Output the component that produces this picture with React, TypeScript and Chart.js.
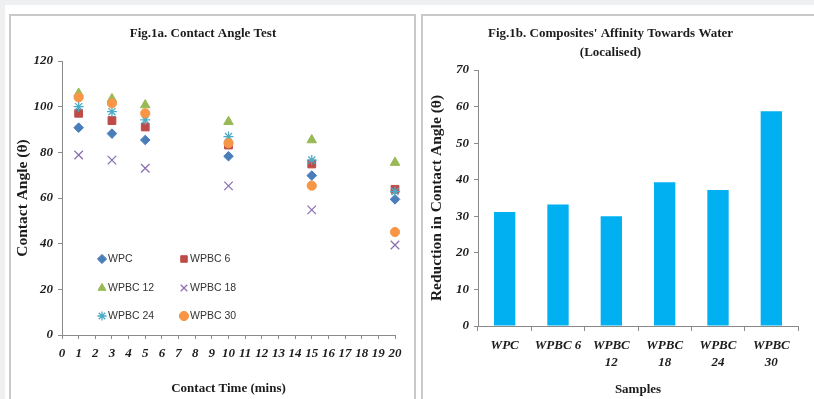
import React, { useEffect, useRef } from 'react';
import { Chart, registerables } from 'chart.js';
import { drawPoint } from 'chart.js/helpers';

Chart.register(...registerables);

// ---------- data ----------
const contactTimes = [1, 3, 5, 10, 15, 20];
const seriesNames = ['WPC', 'WPBC 6', 'WPBC 12', 'WPBC 18', 'WPBC 24', 'WPBC 30'];
const wpc = [90.8, 88.2, 85.4, 78.3, 69.8, 59.4];
const wpbc6 = [97.1, 93.9, 91.1, 83.2, 74.9, 63.8];
const wpbc12 = [105.8, 103.4, 100.7, 93.4, 85.4, 75.5];
const wpbc18 = [78.8, 76.6, 73.0, 65.3, 54.8, 39.4];
const wpbc24 = [100.0, 97.8, 94.2, 86.9, 76.6, 62.8];
const wpbc30 = [104.1, 101.5, 97.1, 84.0, 65.4, 45.1];

const sampleLabels: (string | string[])[] = ['WPC', 'WPBC 6', ['WPBC', '12'], ['WPBC', '18'], ['WPBC', '24'], ['WPBC', '30']];
const reductionValues = [31.2, 33.2, 30.0, 39.3, 37.2, 58.7];

// ---------- styles ----------
const SERIF = '"Liberation Serif", "Times New Roman", serif';
const AXIS_COLOR = '#8a8a8a';
const TEXT_COLOR = '#1c1c1c';

const seriesStyles = [
  { pointStyle: 'rectRot', color: '#4a7ebb', radius: 4.8, borderWidth: 1 },
  { pointStyle: 'rect', color: '#be4b48', radius: 5.5, borderWidth: 1 },
  { pointStyle: 'triangle', color: '#98b954', radius: 5.5, borderWidth: 1 },
  { pointStyle: 'crossRot', color: '#8a70b0', radius: 6, borderWidth: 1.3 },
  { pointStyle: 'star', color: '#4bacc6', radius: 5, borderWidth: 1.3 },
  { pointStyle: 'circle', color: '#f79646', radius: 4.6, borderWidth: 1 },
];
const seriesValues = [wpc, wpbc6, wpbc12, wpbc18, wpbc24, wpbc30];

const gridLegend = {
  id: 'gridLegend',
  afterDraw(chart: any) {
    const o = chart.options.plugins.gridLegend;
    if (!o) return;
    const { ctx, chartArea } = chart;
    chart.data.datasets.forEach((ds: any, i: number) => {
      const col = i % o.cols.length;
      const row = Math.floor(i / o.cols.length);
      const x = chartArea.left + o.cols[col];
      const y = chartArea.top + o.rows[row];
      ctx.save();
      ctx.fillStyle = ds.backgroundColor;
      ctx.strokeStyle = ds.borderColor;
      ctx.lineWidth = ds.borderWidth;
      drawPoint(ctx, { pointStyle: ds.pointStyle, radius: o.markerRadius, rotation: 0, borderWidth: ds.borderWidth }, x, y);
      ctx.fillStyle = '#333333';
      ctx.font = o.font;
      ctx.textBaseline = 'middle';
      ctx.textAlign = 'left';
      ctx.fillText(ds.label, x + o.textGap, y + 0.5);
      ctx.restore();
    });
  },
};

const tickFont = { family: SERIF, size: 13, weight: 'bold' as const, style: 'italic' as const };

function ScatterPanel() {
  const ref = useRef<HTMLCanvasElement>(null);
  useEffect(() => {
    const datasets = seriesNames.map((name, i) => ({
      label: name,
      data: contactTimes.map((t, j) => ({ x: t, y: seriesValues[i][j] })),
      pointStyle: seriesStyles[i].pointStyle,
      backgroundColor: seriesStyles[i].color,
      borderColor: seriesStyles[i].color,
      borderWidth: seriesStyles[i].borderWidth,
      pointRadius: seriesStyles[i].radius,
      pointHoverRadius: seriesStyles[i].radius,
      showLine: false,
      clip: false,
      order: seriesNames.length - i,
    }));
    const chart = new Chart(ref.current as HTMLCanvasElement, {
      type: 'scatter',
      data: { datasets },
      plugins: [gridLegend],
      options: {
        animation: false,
        responsive: false,
        devicePixelRatio: 1,
        layout: { padding: { left: 0, right: 19, top: 0, bottom: 0 } },
        plugins: {
          legend: { display: false },
          tooltip: { enabled: false },
          title: {
            display: true,
            text: 'Fig.1a. Contact Angle Test',
            color: TEXT_COLOR,
            font: { family: SERIF, size: 13, weight: 'bold', lineHeight: 1.2 },
            padding: { top: 10.2, bottom: 19.2 },
          },
          gridLegend: {
            cols: [40, 122],
            rows: [198, 227, 255],
            markerRadius: 4.6,
            textGap: 6,
            font: '10.5px "Liberation Sans", Arial, sans-serif',
          },
        } as any,
        scales: {
          x: {
            type: 'linear',
            min: 0,
            max: 20,
            afterFit: (s: any) => { s.height = 64; },
            border: { display: true, color: AXIS_COLOR, width: 1 },
            grid: { drawOnChartArea: false, color: AXIS_COLOR, tickLength: 4 },
            ticks: { stepSize: 1, autoSkip: false, maxRotation: 0, minRotation: 0, color: TEXT_COLOR, font: tickFont, padding: 7 },
            title: {
              display: true,
              text: 'Contact Time (mins)',
              color: TEXT_COLOR,
              font: { family: SERIF, size: 13, weight: 'bold', lineHeight: 1.2 },
              padding: { top: 0, bottom: 3 },
            },
          },
          y: {
            type: 'linear',
            min: 0,
            max: 120,
            afterFit: (s: any) => { s.width = 51; },
            border: { display: true, color: AXIS_COLOR, width: 1 },
            grid: { drawOnChartArea: false, color: AXIS_COLOR, tickLength: 4 },
            ticks: { stepSize: 20, color: TEXT_COLOR, font: tickFont, padding: 5 },
            title: {
              display: true,
              text: 'Contact Angle (θ)',
              color: TEXT_COLOR,
              font: { family: SERIF, size: 15.5, weight: 'bold', lineHeight: 1.2 },
              padding: { top: 2.5, bottom: 0 },
            },
          },
        },
      } as any,
    });
    return () => chart.destroy();
  }, []);
  return <canvas ref={ref} width={403} height={383} style={{ position: 'absolute', left: 0, top: 0, width: 403, height: 383 }} />;
}

function BarPanel() {
  const ref = useRef<HTMLCanvasElement>(null);
  useEffect(() => {
    const chart = new Chart(ref.current as HTMLCanvasElement, {
      type: 'bar',
      data: {
        labels: sampleLabels,
        datasets: [
          {
            label: 'Reduction in Contact Angle',
            data: reductionValues,
            backgroundColor: '#00b0f0',
            borderWidth: 0,
            categoryPercentage: 0.8,
            barPercentage: 0.5,
          },
        ],
      },
      options: {
        animation: false,
        responsive: false,
        devicePixelRatio: 1,
        layout: { padding: { left: 0, right: 71, top: 0, bottom: 0 } },
        plugins: {
          legend: { display: false },
          tooltip: { enabled: false },
          title: {
            display: true,
            text: ["Fig.1b. Composites' Affinity Towards Water", '(Localised)'],
            color: TEXT_COLOR,
            font: { family: SERIF, size: 13, weight: 'bold', lineHeight: 1.4 },
            padding: { top: 8.9, bottom: 8.7 },
          },
        },
        scales: {
          x: {
            afterFit: (s: any) => { s.height = 73; },
            border: { display: true, color: AXIS_COLOR, width: 1 },
            grid: { drawOnChartArea: false, color: AXIS_COLOR, tickLength: 5, offset: true },
            ticks: { autoSkip: false, maxRotation: 0, minRotation: 0, color: TEXT_COLOR, font: { ...tickFont, lineHeight: 1.3 }, padding: 6.5 },
            title: {
              display: true,
              text: 'Samples',
              color: TEXT_COLOR,
              font: { family: SERIF, size: 13, weight: 'bold', lineHeight: 1.2 },
              padding: { top: 0, bottom: 1.2 },
            },
          },
          y: {
            min: 0,
            max: 70,
            afterFit: (s: any) => { s.width = 55; },
            border: { display: true, color: AXIS_COLOR, width: 1 },
            grid: { drawOnChartArea: false, color: AXIS_COLOR, tickLength: 4 },
            ticks: { stepSize: 10, color: TEXT_COLOR, font: tickFont, padding: 5 },
            title: {
              display: true,
              text: 'Reduction in Contact Angle (θ)',
              color: TEXT_COLOR,
              font: { family: SERIF, size: 15.5, weight: 'bold', lineHeight: 1.2 },
              padding: { top: 4.7, bottom: 0 },
            },
          },
        },
      } as any,
    });
    return () => chart.destroy();
  }, []);
  return <canvas ref={ref} width={446} height={383} style={{ position: 'absolute', left: 0, top: 0, width: 446, height: 383 }} />;
}

export default function App() {
  const panelBorder = '2px solid #c9c9c9';
  return (
    <div style={{ position: 'fixed', left: 0, top: 0, width: 814, height: 399, overflow: 'hidden', background: '#ffffff' }}>
      <div style={{ position: 'absolute', left: 0, top: 0, width: 814, height: 5, background: '#eff0f2' }} />
      <div style={{ position: 'absolute', left: 0, top: 0, width: 5, height: 399, background: '#eff0f2' }} />
      <div style={{ position: 'absolute', left: 9, top: 14, width: 407, height: 420, border: panelBorder, boxSizing: 'border-box' }}>
        <ScatterPanel />
      </div>
      <div style={{ position: 'absolute', left: 421, top: 14, width: 470, height: 420, border: panelBorder, boxSizing: 'border-box' }}>
        <BarPanel />
      </div>
    </div>
  );
}
